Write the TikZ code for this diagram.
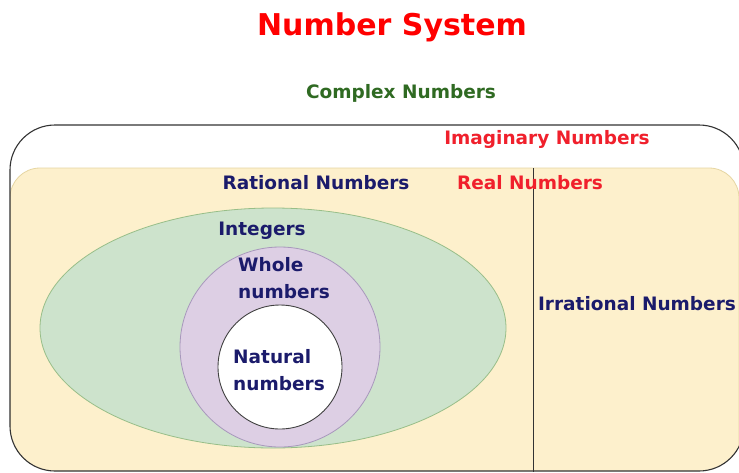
\documentclass[tikz,border=0pt]{standalone}
\usepackage{fontspec}
\setmainfont{DejaVu Sans}
\usetikzlibrary{shapes.geometric}
\definecolor{realfill}{HTML}{FDF0CC}
\definecolor{realedge}{HTML}{E6D6A2}
\definecolor{intfill}{HTML}{CDE3CC}
\definecolor{intedge}{HTML}{98BE88}
\definecolor{wholefill}{HTML}{DDCFE4}
\definecolor{wholeedge}{HTML}{A898BC}
\definecolor{navytext}{HTML}{1B1B6B}
\definecolor{redtext}{HTML}{F0202C}
\definecolor{titlered}{HTML}{FF0000}
\definecolor{greentext}{HTML}{2F6A22}
\tikzset{
  lbl/.style={font=\bfseries\fontsize{18.5}{27}\selectfont, inner sep=0pt},
  navy/.style={lbl, text=navytext},
  redl/.style={lbl, text=redtext},
}
\begin{document}
\begin{tikzpicture}[x=1pt,y=-1pt]
\useasboundingbox (0,0) rectangle (739,472);
\clip (0,0) rectangle (739,472);
\fill[white] (0,0) rectangle (739,472);
% Real numbers region (clipped to complex box)
\begin{scope}
  \clip[rounded corners=45pt] (10,125) rectangle (744,471);
  \filldraw[fill=realfill, draw=realedge, line width=0.8pt, rounded corners=30pt] (10,168) rectangle (739,520);
\end{scope}
% Complex numbers box
\draw[black!80, line width=1.1pt, rounded corners=45pt] (10,125) rectangle (744,471);
% Real / irrational separator
\coordinate (septop) at (533,168);
\coordinate (sepbot) at (533,472);
\draw[black!80, line width=1pt] (septop) -- (sepbot);
% Integers ellipse
\filldraw[fill=intfill, draw=intedge, line width=0.8pt] (273,328) ellipse [x radius=233pt, y radius=120pt];
% Whole numbers circle
\filldraw[fill=wholefill, draw=wholeedge, line width=0.8pt] (280,347) circle [radius=100pt];
% Natural numbers circle
\filldraw[fill=white, draw=black!75, line width=0.9pt] (280,367) circle [radius=62pt];
% Labels
\node[font=\bfseries\fontsize{30}{36}\selectfont, text=titlered, inner sep=0pt] (title) at (392,27) {Number System};
\node[lbl, text=greentext] (complex) at (401,93) {Complex Numbers};
\node[redl] (imag) at (547,139) {Imaginary Numbers};
\node[redl] (real) at (530,183) {Real Numbers};
\node[navy] (rational) at (316,183) {Rational Numbers};
\node[navy] (integers) at (262,231) {Integers};
\node[navy, align=left] (whole) at (284,278) {Whole\\numbers};
\node[navy, align=left] (natural) at (279,370) {Natural\\numbers};
\node[navy] (irrational) at (637,304) {Irrational Numbers};
\end{tikzpicture}
\end{document}
